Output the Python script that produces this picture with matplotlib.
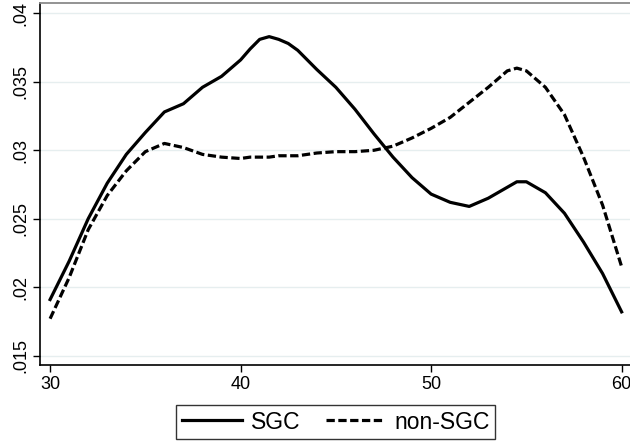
import matplotlib
matplotlib.use("Agg")
import matplotlib.pyplot as plt

plt.rcParams["font.family"] = ["Liberation Sans", "DejaVu Sans"]

# age grid and the two density curves
age = [30, 31, 32, 33, 34, 35, 36, 37, 38, 39, 40, 40.5, 41, 41.5, 42, 42.5,
       43, 44, 45, 46, 47, 48, 49, 50, 51, 52, 53, 54, 54.5, 55, 56, 57, 58,
       59, 60]
sgc = [.0191, .0219, .0250, .0276, .0297, .0313, .0328, .0334, .0346, .0354,
       .0366, .0374, .0381, .0383, .0381, .0378, .0373, .0359, .0346, .0330,
       .0312, .0295, .0280, .0268, .0262, .0259, .0265, .0273, .0277, .0277,
       .0269, .0254, .0233, .0210, .0182]
non_sgc = [.0177, .0207, .0242, .0267, .0285, .0299, .0305, .0302, .0297, .0295,
           .0294, .0295, .0295, .0295, .0296, .0296, .0296, .0298, .0299, .0299,
           .0300, .0303, .0309, .0316, .0324, .0335, .0346, .0358, .0360, .0358,
           .0346, .0326, .0295, .0260, .0215]

x_ticks = [30, 40, 50, 60]
y_ticks = [.015, .02, .025, .03, .035, .04]
y_labels = [".015", ".02", ".025", ".03", ".035", ".04"]

fig = plt.figure(figsize=(6.3, 4.48), dpi=100)
ax = fig.add_axes([0.0635, 0.1853, 0.9365, 0.8069])

ax.plot(age, sgc, color="black", lw=2.3, label="SGC")
ax.plot(age, non_sgc, color="black", lw=2.3, dashes=(2.6, 1.1), label="non-SGC")

ax.set_xlim(29.47, 60.44)
ax.set_ylim(.01432, .04072)
ax.set_xticks(x_ticks)
ax.set_yticks(y_ticks)
ax.set_yticklabels(y_labels, rotation=90, va="center")
ax.tick_params(axis="both", direction="out", length=5, width=1,
               labelsize=13, colors="black", pad=3)
ax.grid(axis="y", color="#e6eeef", lw=1)
ax.set_axisbelow(True)

for side in ["left", "bottom"]:
    ax.spines[side].set_linewidth(1.2)
    ax.spines[side].set_color("black")
ax.spines["right"].set_visible(False)
ax.spines["top"].set_color("#8a8a8a")
ax.spines["top"].set_linewidth(1.3)

leg = fig.legend(loc="center", bbox_to_anchor=(0.5333, 0.058), ncol=2,
                 fontsize=16.5, frameon=True, fancybox=False,
                 handlelength=2.6, handletextpad=0.4, columnspacing=1.1,
                 borderpad=0.25, borderaxespad=0)
leg.get_frame().set_edgecolor("black")
leg.get_frame().set_linewidth(1)

fig.savefig("out.png", dpi=100)
